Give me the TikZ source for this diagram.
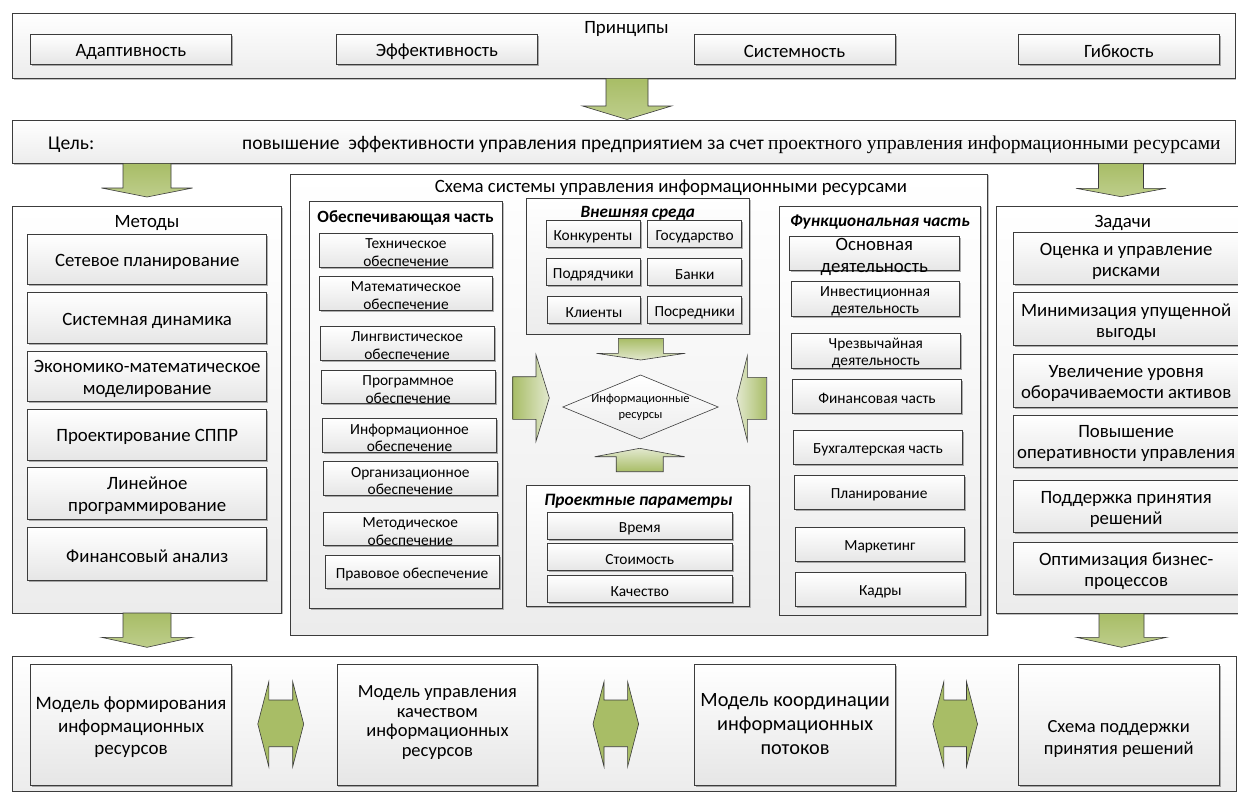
\documentclass[tikz,border=0pt]{standalone}
\usepackage{fontspec}
\setmainfont{Carlito}
\newfontfamily\serifrm{Liberation Serif}
\usetikzlibrary{fit,shadows,shapes.geometric}
\definecolor{bd}{RGB}{60,60,60}
\definecolor{olive}{RGB}{168,189,102}
\definecolor{olivel}{RGB}{190,206,140}
\definecolor{olivevl}{RGB}{226,232,206}
\definecolor{gfill}{RGB}{230,230,230}
\definecolor{gfill2}{RGB}{236,236,236}
\newcommand\fsz[2]{\fontsize{#1}{#2}\selectfont}
\newcommand\bb[6]{\node[#1, fit={(#3,#4) (#5,#6)}] (#2) {};}
\newcommand\bx[8]{\bb{#1}{#3}{#4}{#5}{#6}{#7}\node[#2] (#3t) at (#3.center) {#8};}
\newcommand\varrow[7]{\draw[#7] (#1-#5,#2) -- (#1+#5,#2) -- (#1+#5,#3) -- (#1+#6,#3) -- (#1,#4) -- (#1-#6,#3) -- (#1-#5,#3) -- cycle;}
\newcommand\harrow[7]{\draw[#7] (#2,#1-#5) -- (#3,#1-#5) -- (#3,#1-#6) -- (#4,#1) -- (#3,#1+#6) -- (#3,#1+#5) -- (#2,#1+#5) -- cycle;}
\newcommand\dblarrow[2]{\draw[arr, fill=olive] (#1,724) -- (#1+11,681.7) -- (#1+11,700) -- (#2-11,700) -- (#2-11,681.7) -- (#2,724) -- (#2-11,766.7) -- (#2-11,746.7) -- (#1+11,746.7) -- (#1+11,766.7) -- cycle;}
\tikzset{
  outer/.style={draw=bd, line width=0.8pt, inner sep=0pt, top color=white, bottom color=gfill2,
    drop shadow={shadow xshift=1.3pt, shadow yshift=-1.3pt, fill=black, opacity=0.25}},
  ibox/.style={draw=bd, line width=0.8pt, inner sep=0pt, top color=white, bottom color=gfill,
    drop shadow={shadow xshift=1.5pt, shadow yshift=-1.5pt, fill=black, opacity=0.3}},
  txt/.style={align=center, inner sep=0pt, text=black, yshift=-2.5pt},
  t18/.style={txt, font=\fsz{18.8}{22}},
  t19/.style={txt, font=\fsz{19}{22.5}},
  tgoal/.style={txt, font=\fsz{19.5}{23}},
  t20/.style={txt, font=\fsz{18.8}{21}},
  t21/.style={txt, font=\fsz{20.3}{24}},
  t15/.style={txt, font=\fsz{15.4}{17.5}},
  t13/.style={txt, font=\fsz{12.5}{15.5}},
  bt15/.style={txt, font=\bfseries\fsz{17.2}{19}},
  bi15/.style={txt, font=\bfseries\itshape\fsz{17.2}{19}},
  bi16/.style={txt, font=\bfseries\itshape\fsz{17.4}{19}},
  arr/.style={draw=bd, line width=0.6pt},
}
\begin{document}
\begin{tikzpicture}[x=1pt,y=-1pt]
\useasboundingbox (0,0) rectangle (1238,792);
\fill[white] (0,0) rectangle (1238,792);
% Principles
\bb{outer}{princ}{12.7}{13.3}{1235}{78.3}
\node[t18] (princt) at (626.5,27) {Принципы};
\bx{ibox}{t18}{p1}{30}{34.3}{231.7}{64}{Адаптивность}
\bx{ibox}{t18}{p2}{336}{34.3}{537.8}{64}{Эффективность}
\bx{ibox}{t18}{p3}{694}{34.3}{895}{64}{Системность}
\bx{ibox}{t18}{p4}{1018}{34.3}{1219.7}{64}{Гибкость}
% Goal
\bb{outer}{goal}{12.7}{120}{1235}{163.3}
\node[tgoal, anchor=west] (goall) at (48,142) {Цель:};
\node[tgoal, anchor=west] (goalt) at (242,142) {повышение\ \ эффективности управления предприятием за счет {\serifrm проектного управления информационными ресурсами}};
% arrows top
\varrow{627}{78.3}{106}{119.5}{21}{44.5}{arr, top color=olive, bottom color=olivel}
\varrow{147}{163.3}{188}{197}{24}{45.5}{arr, top color=olive, bottom color=olivel}
\varrow{1121}{163.3}{188.3}{196.7}{22.5}{45}{arr, top color=olive, bottom color=olivel}
% Methods
\bb{outer}{meth}{12.7}{206.5}{281.7}{613}
\node[t18] (metht) at (147,221) {Методы};
\bx{ibox}{t18}{m1}{27.7}{234.5}{266.7}{284}{Сетевое планирование}
\bx{ibox}{t18}{m2}{27.7}{292.7}{266.7}{343.3}{Системная динамика}
\bx{ibox}{t18}{m3}{27.7}{351.7}{266.7}{401}{Экономико-математическое\\моделирование}
\bx{ibox}{t18}{m4}{27.7}{409.3}{266.7}{460}{Проектирование СППР}
\bx{ibox}{t18}{m5}{27.7}{467.3}{266.7}{519.3}{Линейное\\программирование}
\bx{ibox}{t18}{m6}{27.7}{527.3}{266.7}{580}{Финансовый анализ}
% Tasks
\bb{outer}{task}{996}{206.7}{1250}{613.3}
\node[t18] (taskt) at (1122.7,220.7) {Задачи};
\bx{ibox}{t20}{z1}{1013.3}{232.7}{1239}{284.3}{Оценка и управление\\рисками}
\bx{ibox}{t20}{z2}{1013.3}{292.7}{1239}{345.7}{Минимизация упущенной\\выгоды}
\bx{ibox}{t20}{z3}{1013.3}{354}{1239}{407.3}{Увеличение уровня\\оборачиваемости активов}
\bx{ibox}{t20}{z4}{1013.3}{415}{1239}{467.3}{Повышение\\оперативности управления}
\bx{ibox}{t20}{z5}{1013.3}{480.7}{1239}{532.7}{Поддержка принятия\\решений}
\bx{ibox}{t20}{z6}{1013.3}{542.7}{1239}{594}{Оптимизация бизнес-\\процессов}
% Schema
\bb{outer}{sch}{290}{174}{987.7}{635}
\node[t18] (scht) at (671,185) {Схема системы управления информационными ресурсами};
% Supporting part
\bb{outer}{ob}{309.3}{201.7}{502.7}{608.3}
\node[bt15] (obt) at (405.5,215) {Обеспечивающая часть};
\bx{ibox}{t15}{o1}{319.3}{233.3}{492.7}{267.3}{Техническое\\обеспечение}
\bx{ibox}{t15}{o2}{319.3}{276.7}{492.7}{310}{Математическое\\обеспечение}
\bx{ibox}{t15}{o3}{320}{326.7}{494}{360}{Лингвистическое\\обеспечение}
\bx{ibox}{t15}{o4}{321.3}{370.7}{495}{403.3}{Программное\\обеспечение}
\bx{ibox}{t15}{o5}{322.3}{418.3}{496.7}{452.3}{Информационное\\обеспечение}
\bx{ibox}{t15}{o6}{323.3}{461.7}{497.3}{495}{Организационное\\обеспечение}
\bx{ibox}{t15}{o7}{323.3}{512.3}{497.3}{545.7}{Методическое\\обеспечение}
\bx{ibox}{t15}{o8}{325}{555.7}{499}{588.3}{Правовое обеспечение}
% External environment
\bb{outer}{ext}{526}{198.3}{749.3}{334}
\node[bi15] (extt) at (637.7,211) {Внешняя среда};
\bx{ibox}{t15}{e1}{546}{220.7}{640}{247.3}{Конкуренты}
\bx{ibox}{t15}{e2}{647.7}{220.7}{741.7}{247.3}{Государство}
\bx{ibox}{t15}{e3}{546}{258.3}{640.7}{285.7}{Подрядчики}
\bx{ibox}{t15}{e4}{647.7}{258.3}{741.7}{285.7}{Банки}
\bx{ibox}{t15}{e5}{547.3}{296.7}{640.7}{323.3}{Клиенты}
\bx{ibox}{t15}{e6}{647.7}{296.7}{741.7}{323.3}{Посредники}
% Project parameters
\bb{outer}{prj}{526}{485}{749.3}{606.7}
\node[bi16] (prjt) at (638.5,498.3) {Проектные параметры};
\bx{ibox}{t15}{r1}{547.3}{512.3}{732.3}{539.3}{Время}
\bx{ibox}{t15}{r2}{547.3}{543.3}{732.3}{570.7}{Стоимость}
\bx{ibox}{t15}{r3}{547.3}{575}{732.3}{602.7}{Качество}
% Functional part
\bb{outer}{fn}{779.3}{206}{980.7}{615}
\node[bi15] (fnt) at (880,219.3) {Функциональная часть};
\bb{ibox}{f1}{789.3}{236}{959.3}{270.7}
\node[t18] (f1t) at (874.3,254) {Основная\\деятельность};
\bx{ibox}{t15}{f2}{791}{281}{959.3}{316.7}{Инвестиционная\\деятельность}
\bx{ibox}{t15}{f3}{791}{333.3}{960.7}{368.3}{Чрезвычайная\\деятельность}
\bx{ibox}{t15}{f4}{792.3}{379}{961.7}{413.3}{Финансовая часть}
\bx{ibox}{t15}{f5}{793.3}{430}{962.7}{464}{Бухгалтерская часть}
\bx{ibox}{t15}{f6}{794.3}{475}{964}{509.3}{Планирование}
\bx{ibox}{t15}{f7}{795.7}{527.3}{964}{561.7}{Маркетинг}
\bx{ibox}{t15}{f8}{795.7}{572.7}{965}{606.7}{Кадры}
% Information resources
\node[diamond, draw=bd, line width=0.6pt, top color=white, bottom color=gfill2, minimum width=155.6pt, minimum height=64.3pt, inner sep=0pt] (ir) at (640.5,407) {};
\node[t13] (irt) at (640.5,405) {Информационные\\ресурсы};
\varrow{640.8}{338.3}{353.3}{360}{22.5}{44.5}{arr, top color=olive, bottom color=olivevl}
\varrow{639.7}{471.7}{456.7}{448.3}{23.5}{45}{arr, top color=olivevl, bottom color=olive}
\harrow{398}{512.7}{536}{549.3}{21.3}{43.3}{arr, left color=olive, right color=olivevl}
\harrow{398.3}{766.7}{747.3}{736.7}{21}{42.5}{arr, left color=olivevl, right color=olive}
% arrows down to bottom
\varrow{147}{613}{637.3}{647.3}{24}{45.5}{arr, top color=olive, bottom color=olivel}
\varrow{1121.5}{613.3}{637.3}{647.3}{22.5}{45}{arr, top color=olive, bottom color=olivel}
% Bottom
\bb{outer}{bot}{12.7}{656}{1236}{791}
\bx{ibox}{t19}{b1}{30.8}{664.3}{231.3}{785}{Модель формирования\\информационных\\ресурсов}
\bb{ibox}{b2}{336.9}{664.3}{537.8}{785}
\node[txt, font=\fsz{18.5}{19.5}] (b2t) at (437.4,720) {Модель управления\\качеством\\информационных\\ресурсов};
\bb{ibox}{b3}{694.4}{664.3}{895.8}{785}
\node[t21] (b3t) at (795.1,722) {Модель координации\\информационных\\потоков};
\bb{ibox}{b4}{1018.2}{664.3}{1219.2}{785}
\node[txt, font=\fsz{18.5}{22}] (b4t) at (1118.7,736) {Схема поддержки\\принятия решений};
\dblarrow{257.8}{303.7}
\dblarrow{593}{638.6}
\dblarrow{932.8}{977.5}
\end{tikzpicture}
\end{document}
